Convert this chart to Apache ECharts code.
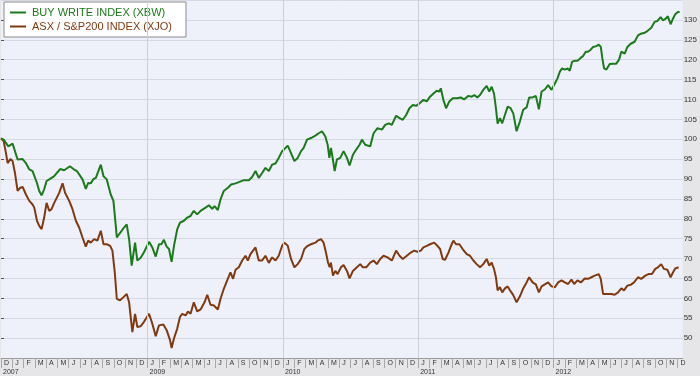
<!DOCTYPE html>
<html>
<head>
<meta charset="utf-8">
<script src="https://cdn.jsdelivr.net/npm/echarts@6/dist/echarts.min.js"></script>
<style>
  html, body { margin: 0; padding: 0; background: #e6e6e8; }
  #main { width: 700px; height: 376px; }
</style>
</head>
<body>
<div id="main"></div>
<script>
// x = months since 1 Dec 2007
var monthLetters = ['D', 'J', 'F', 'M', 'A', 'M', 'J', 'J', 'A', 'S', 'O', 'N'];
var yearTickMonths = [0, 13, 25, 37, 49];
var yearTickLabels = ['2007', '2009', '2010', '2011', '2012'];
var yearLineMonths = [13, 25, 37, 49];

var xbwData = [
    [0, 100.2], [0.24, 99.9], [0.65, 98.2], [1.03, 98.9], [1.47, 94.9], [1.92, 95.0], [2.21, 94.0],
    [2.51, 92.4], [2.8, 92.0], [2.95, 92.4], [3.19, 89.0], [3.39, 87.0], [3.6, 85.9], [3.83, 87.4],
    [4.04, 89.5], [4.28, 89.9], [4.72, 90.7], [5.01, 91.7], [5.25, 92.5], [5.6, 92.2], [6.11, 93.2],
    [6.43, 92.5], [6.73, 92.0], [7.23, 89.9], [7.52, 87.5], [7.73, 89.0], [7.96, 88.9], [8.2, 90.0],
    [8.41, 90.3], [8.55, 89.9], [8.85, 93.6], [9.09, 90.7], [9.38, 89.9], [9.73, 86.1], [9.97, 84.5],
    [10.18, 78.2], [10.27, 75.3], [10.47, 76.1], [10.62, 75.7], [10.91, 77.8], [11.15, 78.6],
    [11.36, 74.9], [11.59, 68.2], [11.89, 74.0], [12.09, 69.5], [12.39, 70.2], [12.68, 71.6],
    [13.13, 74.2], [13.42, 72.8], [13.72, 70.5], [14.01, 73.6], [14.22, 73.6], [14.45, 74.7],
    [14.69, 73.0], [14.9, 72.4], [15.13, 69.2], [15.34, 73.2], [15.63, 77.4], [15.87, 79.0],
    [16.22, 79.5], [16.52, 80.3], [16.81, 80.7], [17.1, 82.0], [17.4, 81.1], [17.7, 82.0],
    [18.14, 82.8], [18.44, 83.4], [18.73, 82.5], [18.94, 83.2], [19.23, 82.2], [19.47, 84.9],
    [19.76, 87.0], [20.12, 87.8], [20.41, 88.6], [20.8, 88.9], [21.09, 89.2], [21.53, 89.7],
    [21.98, 89.7], [22.27, 90.5], [22.57, 92.0], [22.86, 90.3], [23.16, 91.5], [23.45, 92.8],
    [23.75, 92.0], [24.04, 93.6], [24.34, 93.9], [24.63, 95.3], [24.93, 97.0], [25.13, 97.5],
    [25.43, 98.4], [25.72, 96.5], [26.02, 94.5], [26.31, 95.3], [26.61, 97.0], [26.84, 97.8],
    [27.14, 99.9], [27.49, 100.3], [27.88, 100.9], [28.17, 101.5], [28.47, 102.0], [28.76, 100.7],
    [28.97, 98.6], [29.12, 95.3], [29.26, 97.8], [29.41, 95.3], [29.59, 92.0], [29.79, 94.9],
    [30.09, 95.3], [30.38, 97.0], [30.68, 95.3], [30.91, 93.4], [31.21, 96.1], [31.5, 97.4],
    [31.8, 98.6], [32.01, 99.9], [32.3, 98.6], [32.74, 98.2], [33.04, 101.5], [33.39, 102.8],
    [33.78, 102.4], [34.07, 103.6], [34.37, 104.0], [34.66, 103.6], [35.04, 105.9], [35.34, 105.3],
    [35.63, 104.9], [35.93, 106.1], [36.22, 107.8], [36.52, 108.6], [36.81, 108.4], [37.11, 109.0],
    [37.46, 109.9], [37.76, 109.5], [38.05, 110.7], [38.35, 111.5], [38.64, 112.2], [38.88, 112.0],
    [39.0, 112.8], [39.23, 109.9], [39.47, 107.8], [39.76, 109.5], [40.06, 110.3], [40.41, 110.3],
    [40.77, 110.5], [41.06, 110.0], [41.45, 110.9], [41.74, 110.7], [41.98, 111.1], [42.24, 110.5],
    [42.48, 111.1], [42.77, 112.4], [43.07, 113.4], [43.3, 112.0], [43.51, 113.2], [43.72, 111.5],
    [43.89, 107.8], [44.04, 103.9], [44.25, 105.3], [44.45, 104.0], [44.69, 106.1], [44.93, 108.2],
    [45.19, 107.8], [45.43, 106.5], [45.72, 102.0], [46.02, 104.5], [46.31, 107.4], [46.61, 108.0],
    [46.84, 110.5], [47.14, 110.5], [47.43, 110.9], [47.7, 107.5], [47.94, 112.0], [48.23, 112.5],
    [48.52, 113.6], [48.82, 112.4], [49.12, 114.0], [49.35, 115.3], [49.56, 117.0], [49.76, 117.8],
    [50.0, 117.5], [50.24, 117.8], [50.44, 117.2], [50.65, 119.5], [50.88, 119.7], [51.12, 119.7],
    [51.42, 120.5], [51.62, 120.9], [51.86, 122.0], [52.06, 122.0], [52.3, 122.5], [52.51, 123.2],
    [52.8, 123.4], [53.01, 123.8], [53.19, 123.2], [53.33, 120.3], [53.48, 117.8], [53.69, 117.5],
    [53.98, 118.9], [54.28, 119.0], [54.57, 119.0], [54.81, 120.0], [55.01, 122.0], [55.31, 121.5],
    [55.55, 123.2], [55.84, 124.0], [56.19, 124.5], [56.49, 126.1], [56.73, 126.5], [57.02, 126.7],
    [57.32, 127.2], [57.67, 128.0], [57.96, 129.5], [58.2, 129.7], [58.5, 130.7], [58.7, 129.9],
    [58.94, 130.3], [59.14, 130.9], [59.38, 128.9], [59.59, 130.3], [59.79, 131.4], [60.03, 132.0],
    [60.18, 132.0]
];

var xjoData = [
    [0, 100.2], [0.24, 99.5], [0.44, 96.5], [0.59, 94.0], [0.83, 95.0], [1.03, 94.5], [1.24, 91.5],
    [1.47, 87.0], [1.71, 87.8], [1.92, 88.0], [2.21, 86.1], [2.51, 84.5], [2.8, 83.6], [2.95, 82.8],
    [3.19, 79.5], [3.39, 78.2], [3.6, 77.4], [3.83, 80.3], [4.04, 84.0], [4.28, 82.0], [4.48, 82.4],
    [4.72, 84.0], [5.16, 86.5], [5.46, 88.9], [5.69, 86.5], [6.05, 84.5], [6.34, 82.4], [6.64, 79.5],
    [6.93, 77.8], [7.23, 75.3], [7.52, 73.0], [7.73, 74.5], [7.96, 74.0], [8.26, 74.9], [8.55, 74.5],
    [8.85, 77.0], [9.09, 73.6], [9.38, 73.6], [9.68, 73.2], [9.88, 72.0], [10.09, 66.5], [10.27, 59.9],
    [10.56, 59.5], [10.86, 60.3], [11.15, 61.1], [11.36, 59.0], [11.65, 51.5], [11.89, 56.1],
    [12.09, 52.8], [12.39, 53.0], [12.68, 54.1], [13.13, 56.1], [13.42, 53.6], [13.72, 50.5],
    [14.01, 53.2], [14.4, 53.4], [14.69, 52.0], [14.99, 49.5], [15.13, 47.5], [15.34, 49.9],
    [15.63, 52.4], [15.87, 55.3], [16.07, 56.1], [16.37, 55.7], [16.58, 56.7], [16.81, 56.1],
    [17.1, 59.0], [17.4, 56.7], [17.7, 57.2], [18.05, 59.0], [18.29, 60.9], [18.58, 58.4],
    [18.88, 58.2], [19.23, 57.2], [19.47, 59.9], [19.76, 62.4], [20.06, 64.5], [20.35, 66.5],
    [20.58, 64.9], [20.8, 67.2], [21.09, 67.8], [21.39, 69.5], [21.68, 70.7], [21.89, 69.5],
    [22.12, 71.1], [22.57, 72.8], [22.86, 69.5], [23.16, 69.5], [23.45, 70.7], [23.75, 68.9],
    [24.04, 70.3], [24.34, 69.5], [24.63, 70.7], [24.93, 73.2], [25.13, 74.0], [25.43, 73.2],
    [25.72, 69.9], [26.02, 67.8], [26.31, 68.6], [26.61, 69.9], [26.9, 72.4], [27.2, 73.2],
    [27.49, 73.6], [27.88, 74.0], [28.08, 74.5], [28.38, 74.9], [28.61, 74.0], [28.82, 71.5],
    [29.0, 69.0], [29.14, 67.8], [29.26, 69.0], [29.44, 65.7], [29.65, 66.9], [29.85, 66.1],
    [30.15, 67.8], [30.38, 68.4], [30.68, 66.9], [30.91, 65.0], [31.21, 66.9], [31.56, 67.8],
    [31.86, 68.6], [32.09, 67.8], [32.39, 67.8], [32.74, 69.0], [33.04, 69.5], [33.33, 68.6],
    [33.63, 69.9], [33.92, 70.7], [34.28, 70.3], [34.66, 69.5], [35.04, 72.0], [35.34, 70.7],
    [35.63, 69.9], [35.99, 70.7], [36.34, 71.5], [36.64, 72.0], [36.93, 71.7], [37.23, 72.0],
    [37.46, 72.8], [37.76, 73.2], [38.05, 73.6], [38.41, 74.0], [38.7, 73.2], [38.94, 72.4],
    [39.17, 69.9], [39.38, 69.7], [39.68, 71.5], [39.97, 73.6], [40.12, 74.5], [40.35, 73.6],
    [40.65, 73.6], [40.94, 72.4], [41.3, 71.1], [41.59, 70.7], [41.89, 69.5], [42.18, 68.6],
    [42.48, 67.8], [42.77, 68.6], [43.07, 69.9], [43.3, 68.2], [43.51, 69.0], [43.72, 67.4],
    [43.89, 65.3], [44.04, 62.0], [44.25, 62.8], [44.45, 61.5], [44.69, 62.5], [44.93, 63.0],
    [45.19, 61.8], [45.43, 60.8], [45.72, 59.0], [46.02, 60.5], [46.31, 62.5], [46.61, 64.0],
    [46.84, 65.3], [47.14, 64.0], [47.43, 63.5], [47.7, 61.5], [47.94, 63.0], [48.23, 63.5],
    [48.52, 64.0], [48.82, 63.0], [49.12, 62.8], [49.41, 64.0], [49.71, 64.5], [50.0, 64.0],
    [50.29, 63.6], [50.59, 64.7], [50.83, 63.6], [51.12, 64.5], [51.42, 64.0], [51.77, 65.0],
    [52.06, 64.9], [52.36, 65.3], [52.65, 65.7], [53.01, 66.1], [53.19, 64.9], [53.39, 61.1],
    [53.54, 60.7], [53.83, 61.1], [54.13, 61.1], [54.42, 60.9], [54.72, 61.5], [55.01, 62.5],
    [55.25, 62.0], [55.55, 63.2], [55.84, 63.4], [56.14, 64.0], [56.49, 65.3], [56.78, 64.9],
    [57.14, 65.7], [57.43, 66.1], [57.73, 66.1], [58.02, 67.4], [58.26, 67.8], [58.55, 68.6],
    [58.79, 67.4], [59.09, 67.2], [59.38, 65.3], [59.59, 66.5], [59.79, 67.5], [60.09, 67.8]
];

var myChart = echarts.init(document.getElementById('main'));
var option = {
    animation: false,
    textStyle: { fontFamily: 'Arial, "Liberation Sans", sans-serif' },
    grid: {
        left: 0,
        right: 17,
        top: 0,
        height: 359.5,
        show: true,
        backgroundColor: '#eff1fa',
        borderWidth: 0
    },
    legend: {
        left: 4,
        top: 2,
        orient: 'vertical',
        backgroundColor: '#fff',
        borderColor: '#8a8a8a',
        borderWidth: 1,
        borderRadius: 0,
        padding: [5, 14, 5, 6],
        itemGap: 3,
        itemWidth: 16,
        itemHeight: 2,
        icon: 'rect',
        textStyle: { fontSize: 11, padding: [0, 0, 0, 1] },
        data: [
            { name: 'BUY WRITE INDEX (XBW)', textStyle: { color: '#1b7a1b' } },
            { name: 'ASX / S&P200 INDEX (XJO)', textStyle: { color: '#7f3a12' } }
        ]
    },
    xAxis: [
        {
            type: 'value',
            min: 0,
            max: 60.45,
            interval: 1,
            position: 'bottom',
            axisLine: { show: true, lineStyle: { color: '#9a9a9a' } },
            axisTick: { show: true, length: 10, lineStyle: { color: '#a8a8a8' } },
            splitLine: { show: false },
            axisLabel: {
                show: true,
                fontSize: 7,
                color: '#333',
                align: 'left',
                margin: 2,
                padding: [0, 0, 0, 3],
                showMaxLabel: false,
                formatter: function (val) {
                    return monthLetters[Math.round(val) % 12];
                }
            }
        },
        {
            type: 'value',
            min: 0,
            max: 60.45,
            interval: 1,
            position: 'bottom',
            offset: 10,
            axisLine: { show: false },
            axisTick: { show: false },
            splitLine: { show: false },
            axisLabel: {
                show: true,
                fontSize: 7,
                color: '#333',
                align: 'left',
                margin: 1,
                padding: [0, 0, 0, 2],
                showMaxLabel: false,
                formatter: function (val) {
                    var i = yearTickMonths.indexOf(Math.round(val));
                    return i >= 0 ? yearTickLabels[i] : '';
                }
            }
        }
    ],
    yAxis: {
        type: 'value',
        position: 'right',
        min: 45,
        max: 135,
        interval: 5,
        axisLine: { show: false },
        axisTick: { show: true, inside: false, length: 3, lineStyle: { color: '#555' } },
        splitLine: { show: true, lineStyle: { color: '#d6d8e4', width: 1 } },
        axisLabel: {
            fontSize: 8,
            color: '#333',
            margin: 1,
            showMinLabel: false,
            showMaxLabel: false
        }
    },
    series: [
        {
            name: 'BUY WRITE INDEX (XBW)',
            type: 'line',
            data: xbwData,
            showSymbol: false,
            symbol: 'none',
            lineStyle: { color: '#1b7a1b', width: 2 },
            itemStyle: { color: '#1b7a1b' },
            markLine: {
                silent: true,
                symbol: 'none',
                label: { show: false },
                lineStyle: { color: '#cdd0dc', width: 1, type: 'solid' },
                data: yearLineMonths.map(function (m) { return { xAxis: m }; })
            },
            z: 3
        },
        {
            name: 'ASX / S&P200 INDEX (XJO)',
            type: 'line',
            data: xjoData,
            showSymbol: false,
            symbol: 'none',
            lineStyle: { color: '#7f3a12', width: 2 },
            itemStyle: { color: '#7f3a12' },
            z: 2
        }
    ]
};
myChart.setOption(option);

window.addEventListener('resize', function () {
    myChart.resize();
});
</script>
</body>
</html>
